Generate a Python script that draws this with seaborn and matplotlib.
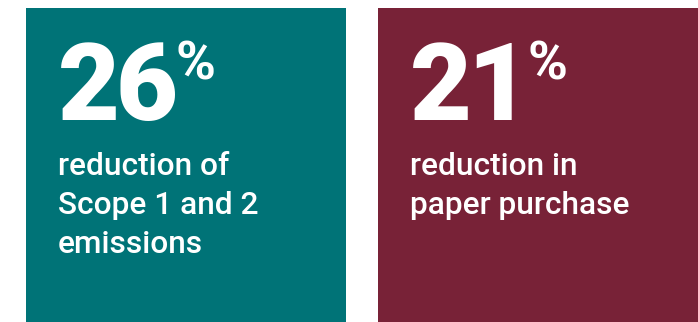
import matplotlib
matplotlib.use("Agg")
import matplotlib.pyplot as plt
import seaborn as sns
import pandas as pd

# ---- data ----
categories = ["Scope 1 and 2", "Paper"]
percent_values = [26, 21]
descriptions = [
    ["reduction of", "Scope 1 and 2", "emissions"],
    ["reduction in", "paper purchase"],
]
tile_colors = ["#007377", "#782237"]
tile_height = [1, 1]

df = pd.DataFrame({"category": categories, "tile": tile_height, "value": percent_values})

W, H = 698, 322
fig = plt.figure(figsize=(W / 100, H / 100), dpi=100)
fig.patch.set_facecolor("white")

ax = fig.add_axes([0, 0, 1, (H - 8) / H])
sns.barplot(data=df, x="category", y="tile", hue="category", palette=tile_colors,
            width=320 / 352, saturation=1, legend=False, ax=ax)
span = W / 352
left = -(320 / 352) / 2 - 26 / 352
ax.set_xlim(left, left + span)
ax.set_ylim(0, 1)
ax.axis("off")
for p in ax.patches:
    p.set_linewidth(0)

def fx(px):
    return px / W

def fy(py):
    return (H - py) / H

fam = ["Roboto", "DejaVu Sans"]
num_x = [58, 410]
tracking = -5  # px, tight letter spacing of the big numbers
fig.canvas.draw()
renderer = fig.canvas.get_renderer()
for i, (val, lines) in enumerate(zip(percent_values, descriptions)):
    x = num_x[i]
    for ch in str(val):
        t = fig.text(fx(x), fy(120), ch, fontsize=77, fontweight="black",
                     family=fam, color="white", ha="left", va="baseline")
        bb = t.get_window_extent(renderer=renderer)
        x = bb.x1 + tracking
    fig.text(fx(x + 4), fy(80), "%", fontsize=39, fontweight="bold",
             family=fam, color="white", ha="left", va="baseline")
    for j, line in enumerate(lines):
        fig.text(fx(num_x[i]), fy(175 + 39 * j), line, fontsize=22.8,
                 fontweight="medium", family=fam, color="white",
                 ha="left", va="baseline")

fig.savefig("out.png", dpi=100, facecolor="white")
